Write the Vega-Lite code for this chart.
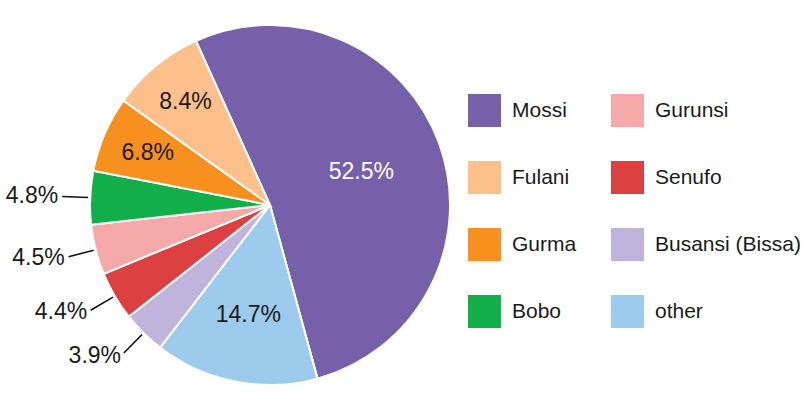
{
  "$schema": "https://vega.github.io/schema/vega-lite/v6.json",
  "width": 540,
  "height": 410,
  "padding": {"left": 0, "top": 0, "right": 263, "bottom": 0},
  "autosize": "none",
  "background": "white",
  "config": {"view": {"stroke": null}, "font": "Liberation Sans"},
  "data": {
    "values": [
      {"group": "Mossi", "share": 0.525},
      {"group": "other", "share": 0.147},
      {"group": "Busansi (Bissa)", "share": 0.039},
      {"group": "Senufo", "share": 0.044},
      {"group": "Gurunsi", "share": 0.045},
      {"group": "Bobo", "share": 0.048},
      {"group": "Gurma", "share": 0.068},
      {"group": "Fulani", "share": 0.084}
    ]
  },
  "transform": [{"window": [{"op": "row_number", "as": "idx"}]}],
  "encoding": {
    "theta": {"field": "share", "type": "quantitative", "stack": true, "scale": {"range": [-0.4241, 5.8591]}},
    "order": {"field": "idx", "type": "quantitative"}
  },
  "layer": [
    {
      "mark": {"type": "arc", "radius": 180, "stroke": "white", "strokeWidth": 2},
      "encoding": {
        "color": {
          "field": "group",
          "type": "nominal",
          "scale": {
            "domain": ["Mossi", "Fulani", "Gurma", "Bobo", "Gurunsi", "Senufo", "Busansi (Bissa)", "other"],
            "range": ["#7760AA", "#FDC08A", "#F7901E", "#12AE4A", "#F5A9A8", "#DC4040", "#C1B4DC", "#9CCBEE"]
          },
          "legend": {
            "title": null,
            "orient": "none",
            "legendX": 468,
            "legendY": 94,
            "columns": 2,
            "symbolType": "square",
            "symbolSize": 1089,
            "symbolStrokeWidth": 0,
            "labelFontSize": 21,
            "labelFont": "Liberation Sans",
            "labelColor": "#1a1a1a",
            "labelOffset": 11,
            "labelLimit": 300,
            "rowPadding": 34,
            "columnPadding": 34,
            "padding": 0
          }
        }
      }
    },
    {
      "mark": {"type": "arc", "radius": 208, "radius2": 182, "padAngle": 3, "filled": false, "stroke": "#111111", "strokeWidth": 1.6},
      "encoding": {
        "strokeOpacity": {
          "condition": {"test": "indexof(['Bobo','Gurunsi','Senufo','Busansi (Bissa)'], datum.group) >= 0", "value": 1},
          "value": 0
        }
      }
    },
    {
      "mark": {"type": "text", "radius": 212, "align": "right", "baseline": "middle", "fontSize": 23, "font": "Liberation Sans", "fill": "#1a1a1a"},
      "encoding": {
        "text": {
          "condition": {"test": "indexof(['Bobo','Gurunsi','Senufo','Busansi (Bissa)'], datum.group) >= 0", "field": "share", "type": "quantitative", "format": ".1%"},
          "value": ""
        }
      }
    },
    {
      "mark": {"type": "text", "radius": 97, "align": "center", "baseline": "middle", "fontSize": 23, "font": "Liberation Sans", "fill": "white"},
      "encoding": {
        "text": {
          "condition": {"test": "datum.group === 'Mossi'", "field": "share", "type": "quantitative", "format": ".1%"},
          "value": ""
        }
      }
    },
    {
      "mark": {"type": "text", "radius": 112, "align": "center", "baseline": "middle", "fontSize": 23, "font": "Liberation Sans", "fill": "#1a1a1a"},
      "encoding": {
        "text": {
          "condition": {"test": "datum.group === 'other'", "field": "share", "type": "quantitative", "format": ".1%"},
          "value": ""
        }
      }
    },
    {
      "mark": {"type": "text", "radius": 133, "align": "center", "baseline": "middle", "fontSize": 23, "font": "Liberation Sans", "fill": "#1a1a1a"},
      "encoding": {
        "text": {
          "condition": {"test": "datum.group === 'Gurma' || datum.group === 'Fulani'", "field": "share", "type": "quantitative", "format": ".1%"},
          "value": ""
        }
      }
    }
  ]
}
